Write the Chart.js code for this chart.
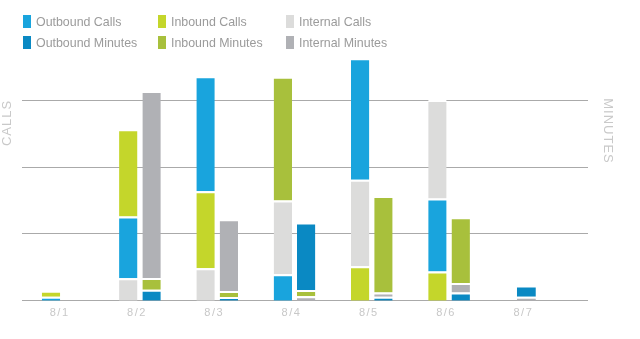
<!DOCTYPE html>
<html>
<head>
<meta charset="utf-8">
<script src="https://cdn.jsdelivr.net/npm/chart.js@4.4.1/dist/chart.umd.min.js"></script>
<style>
  body { margin: 0; background: #fff; }
  #wrap { position: relative; width: 640px; height: 339px; }
  #legend { position: absolute; left: 0; top: 0; font: 12.4px "Liberation Sans", Arial, sans-serif; color: #9b9b9b; }
  .item { position: absolute; display: flex; align-items: center; height: 13px; white-space: nowrap; }
  .box { width: 8px; height: 13px; margin-right: 5px; }
</style>
</head>
<body>
<div id="wrap">
  <canvas id="chart" width="640" height="339"></canvas>
  <div id="legend"></div>
</div>
<script>
const dates = ['8/1', '8/2', '8/3', '8/4', '8/5', '8/6', '8/7'];

// calls (one gridline = 100)
const outboundCalls = [6, 93, 173, 40, 183, 110, null];
const inboundCalls = [9, 131, 116, 186, 52, 44, null];
const internalCalls = [0, 34, 49, 111, 130, 148, null];

// minutes (one gridline = 500)
const outboundMinutes = [0, 84, 28, 509, 30, 63, 85];
const inboundMinutes = [0, 87, 45, 46, 725, 495, 0];
const internalMinutes = [0, 1407, 540, 35, 33, 70, 30];

const callsTicks = [0, 100, 200, 300];

const colors = {
  outCalls: '#19a4dd',
  inCalls: '#c4d62b',
  intCalls: '#dcdcdb',
  outMin: '#0a89c3',
  inMin: '#a8c03c',
  intMin: '#b0b1b5'
};

// the original paints the 8/4 inbound calls segment in the darker green
const inboundCallsColors = dates.map((d, i) => (i === 3 ? colors.inMin : colors.inCalls));

const callsSeries = [
  { label: 'Outbound Calls', values: outboundCalls, color: colors.outCalls },
  { label: 'Inbound Calls', values: inboundCalls, color: colors.inCalls, colorsPerBar: inboundCallsColors },
  { label: 'Internal Calls', values: internalCalls, color: colors.intCalls }
];
const minutesSeries = [
  { label: 'Outbound Minutes', values: outboundMinutes, color: colors.outMin },
  { label: 'Inbound Minutes', values: inboundMinutes, color: colors.inMin },
  { label: 'Internal Minutes', values: internalMinutes, color: colors.intMin }
];

// segments are stacked smallest at the bottom, so build one dataset per rank
function rankDatasets(seriesList, stack, axisId) {
  const out = seriesList.map((s, k) => ({
    label: stack + ' ' + k,
    stack: stack,
    yAxisID: axisId,
    data: [],
    backgroundColor: [],
    borderColor: '#ffffff',
    borderWidth: { top: 2, left: 0, right: 0, bottom: 0 },
    borderSkipped: false
  }));
  dates.forEach((d, i) => {
    const sorted = seriesList
      .map((s) => ({ v: s.values[i], c: s.colorsPerBar ? s.colorsPerBar[i] : s.color }))
      .sort((a, b) => (a.v ?? 0) - (b.v ?? 0));
    sorted.forEach((s, k) => {
      out[k].data.push(s.v);
      out[k].backgroundColor.push(s.c);
    });
  });
  return out;
}

const gridPlugin = {
  id: 'extGrid',
  beforeDraw(chart) {
    chart.ctx.letterSpacing = '1.5px';
  },
  beforeDatasetsDraw(chart) {
    const { ctx, chartArea, scales } = chart;
    ctx.save();
    ctx.strokeStyle = '#aaaaaa';
    ctx.lineWidth = 1;
    callsTicks.forEach((v) => {
      const y = Math.round(scales.y.getPixelForValue(v)) - 0.5;
      ctx.beginPath();
      ctx.moveTo(chartArea.left - 2, y);
      ctx.lineTo(chartArea.right + 23, y);
      ctx.stroke();
    });
    ctx.restore();
  }
};

const axisTitlePlugin = {
  id: 'axisTitles',
  afterDraw(chart) {
    const { ctx } = chart;
    ctx.save();
    ctx.font = '13px "Liberation Sans", Arial, sans-serif';
    ctx.fillStyle = '#c9c9c9';
    ctx.letterSpacing = '1px';
    ctx.textAlign = 'center';
    ctx.textBaseline = 'middle';

    ctx.save();
    ctx.translate(7, 123);
    ctx.rotate(-Math.PI / 2);
    ctx.fillText('CALLS', 0, 0);
    ctx.restore();

    ctx.save();
    ctx.translate(608, 131);
    ctx.rotate(Math.PI / 2);
    ctx.fillText('MINUTES', 0, 0);
    ctx.restore();

    ctx.restore();
  }
};

function renderLegend() {
  const legendCols = [23, 158, 286];
  const legendRows = [15, 36];
  const el = document.getElementById('legend');
  const all = [...callsSeries, ...minutesSeries];
  el.innerHTML = all.map((s, i) => {
    const x = legendCols[i % 3];
    const y = legendRows[Math.floor(i / 3)];
    return `<div class="item" style="left:${x}px;top:${y}px"><span class="box" style="background:${s.color}"></span>${s.label}</div>`;
  }).join('');
}

Chart.defaults.font.family = '"Liberation Sans", Arial, sans-serif';

new Chart(document.getElementById('chart'), {
  type: 'bar',
  data: {
    labels: dates,
    datasets: [
      ...rankDatasets(callsSeries, 'calls', 'y'),
      ...rankDatasets(minutesSeries, 'minutes', 'y1')
    ]
  },
  options: {
    responsive: false,
    animation: false,
    devicePixelRatio: 1,
    skipNull: true,
    categoryPercentage: 0.603,
    barPercentage: 0.79,
    maxBarThickness: 19,
    layout: { padding: { left: 24, right: 75, top: 35, bottom: 13 } },
    plugins: {
      legend: { display: false },
      tooltip: { enabled: false }
    },
    scales: {
      x: {
        stacked: true,
        grid: { display: false, drawTicks: false },
        border: { display: false },
        ticks: {
          color: '#c8c8c8',
          padding: 6,
          labelOffset: -3,
          font: { size: 11 }
        }
      },
      y: {
        display: false,
        stacked: true,
        min: 0,
        max: 400,
        ticks: { stepSize: 100 }
      },
      y1: {
        display: false,
        stacked: true,
        min: 0,
        max: 2000,
        ticks: { stepSize: 500 }
      }
    }
  },
  plugins: [gridPlugin, axisTitlePlugin]
});

renderLegend();
</script>
</body>
</html>
